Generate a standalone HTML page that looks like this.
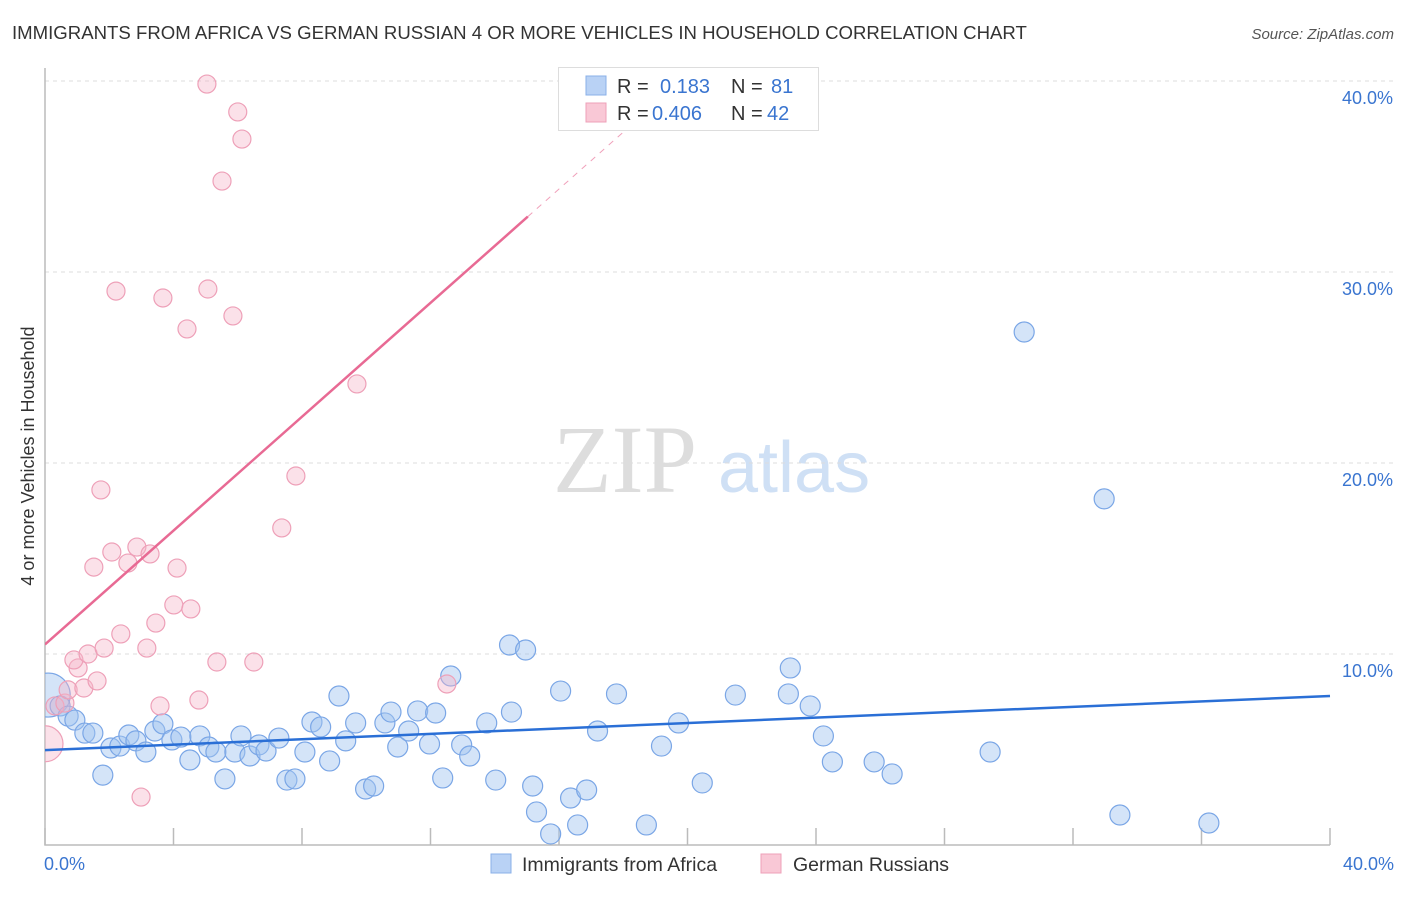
<!DOCTYPE html>
<html><head><meta charset="utf-8"><style>
body{margin:0;background:#fff;font-family:"Liberation Sans",sans-serif}
svg text{font-family:"Liberation Sans",sans-serif}
</style></head><body>
<svg id="c" width="1406" height="892" xmlns="http://www.w3.org/2000/svg">
<defs><clipPath id="plot"><rect x="45" y="60" width="1370" height="785"/></clipPath></defs>
<text x="12" y="39" font-size="18.6" fill="#333">IMMIGRANTS FROM AFRICA VS GERMAN RUSSIAN 4 OR MORE VEHICLES IN HOUSEHOLD CORRELATION CHART</text>
<text x="1394" y="39" font-size="15" fill="#555" text-anchor="end" font-style="italic">Source: ZipAtlas.com</text>
<text x="553" y="492" font-size="96" fill="#ddd" style="font-family:'Liberation Serif',serif">ZIP</text>
<text x="718" y="492" font-size="72" fill="#cfe0f5">atlas</text>
<g id="grid"></g>
<g id="marks" clip-path="url(#plot)"></g>
<text transform="translate(34,456) rotate(-90)" font-size="18" fill="#333" text-anchor="middle">4 or more Vehicles in Household</text>
<text x="44" y="870" font-size="18" fill="#3a75d0">0.0%</text>
<text x="1394" y="870" font-size="18" fill="#3a75d0" text-anchor="end">40.0%</text>
<g>
<rect x="558.5" y="67.5" width="260" height="63" fill="#fff" stroke="#ddd"/>
<rect x="586" y="76" width="20" height="19" fill="#b9d2f5" stroke="#8ab0e8"/>
<rect x="586" y="103" width="20" height="19" fill="#f9c8d6" stroke="#eea0b8"/>
<text x="617" y="93" font-size="20" fill="#333">R =</text><text x="660" y="93" font-size="20" fill="#3a75d0">0.183</text>
<text x="731" y="93" font-size="20" fill="#333">N =</text><text x="771" y="93" font-size="20" fill="#3a75d0">81</text>
<text x="617" y="120" font-size="20" fill="#333">R =</text><text x="652" y="120" font-size="20" fill="#3a75d0">0.406</text>
<text x="731" y="120" font-size="20" fill="#333">N =</text><text x="767" y="120" font-size="20" fill="#3a75d0">42</text>
</g>
<g><rect x="491" y="854" width="20" height="19" fill="#b9d2f5" stroke="#8ab0e8"/><text x="522" y="871" font-size="19.5" fill="#333">Immigrants from Africa</text></g>
<g><rect x="761" y="854" width="20" height="19" fill="#f9c8d6" stroke="#eea0b8"/><text x="793" y="871" font-size="19.5" fill="#333">German Russians</text></g>
</svg>
<script>
const yTicks=[10,20,30,40];
const yTickLabels=["10.0%","20.0%","30.0%","40.0%"];
const xTicks=[0,4,8,12,16,20,24,28,32,36,40];
const blueX=[0.1,0.47,0.72,0.93,1.24,1.49,1.80,2.05,2.33,2.61,2.83,3.14,3.42,3.67,3.95,4.23,4.51,4.82,5.10,5.32,5.60,5.91,6.10,6.38,6.66,6.88,7.28,7.53,7.78,8.09,8.31,8.58,8.86,9.15,9.36,9.67,9.98,10.23,10.58,10.77,10.98,11.32,11.60,11.97,12.16,12.38,12.63,12.97,13.22,13.75,14.03,14.46,14.52,14.96,15.18,15.30,15.74,16.05,16.36,16.58,16.86,17.20,17.79,18.72,19.19,19.72,20.46,21.49,23.14,23.20,23.82,24.23,24.51,25.81,26.37,29.42,30.48,32.97,33.46,36.23];
const blueY=[7.85,7.28,6.75,6.54,5.86,5.86,3.66,5.08,5.18,5.76,5.45,4.87,5.97,6.34,5.50,5.65,4.45,5.71,5.13,4.87,3.46,4.87,5.71,4.66,5.24,4.92,5.60,3.40,3.46,4.87,6.44,6.18,4.40,7.80,5.45,6.39,2.93,3.09,6.39,6.96,5.13,5.97,7.02,5.29,6.91,3.51,8.85,5.24,4.66,6.39,3.40,10.47,6.96,10.21,3.09,1.73,0.58,8.06,2.46,1.05,2.88,5.97,7.91,1.05,5.18,6.39,3.25,7.85,7.91,9.27,7.28,5.71,4.35,4.35,3.72,4.87,26.86,18.12,1.57,1.15];
const pinkX=[0.0,0.31,0.62,0.72,1.03,0.90,1.34,1.21,1.62,1.84,1.74,1.52,2.08,2.21,2.36,2.58,2.86,2.99,3.27,3.17,3.45,3.58,3.67,4.01,4.11,4.42,4.54,4.79,5.07,5.04,5.35,5.51,5.85,6.00,6.13,6.50,7.37,7.81,9.71,12.51];
const pinkY=[5.3,7.28,7.43,8.12,9.27,9.69,10.0,8.22,8.59,10.31,18.59,14.55,15.34,29.0,11.05,14.76,15.60,2.51,15.24,10.31,11.62,7.28,28.64,12.57,14.50,27.02,12.36,7.59,29.11,39.84,9.58,34.76,27.70,38.38,36.96,9.58,16.60,19.32,24.14,8.43];
const blueTrend=[[0,4.97],[40,7.8]];
const pinkTrend=[[0,10.5],[15.03,32.9]];
const pinkTrendDash=[[15.03,32.9],[19.8,40]];
const NS="http://www.w3.org/2000/svg";
const X=v=>45+v/40*1285, Y=v=>845-v*19.1;
function mk(t,a,p){const e=document.createElementNS(NS,t);for(const k in a)e.setAttribute(k,a[k]);p.appendChild(e);return e;}
const g=document.getElementById('grid'),m=document.getElementById('marks');
yTicks.forEach((t,i)=>{
 const l=mk('line',{x1:45,x2:1393,y1:Y(t),y2:Y(t),stroke:'#ddd','stroke-dasharray':'4,4'},g);
 
 
 const tx=mk('text',{x:1393,y:Y(t)+23,'font-size':18,fill:'#3a75d0','text-anchor':'end'},g);
 tx.textContent=yTickLabels[i];
 
 
});
const ax=mk('path',{d:'M45,68V845H1330',fill:'none',stroke:'#bbb','stroke-width':1.5},g);


xTicks.forEach(t=>{
 const l=mk('line',{x1:X(t),x2:X(t),y1:828,y2:845,stroke:'#bbb','stroke-width':1.5},g);
 
 
});
blueX.forEach((x,i)=>{
 const c=mk('circle',{cx:X(x),cy:Y(blueY[i]),r:i==0?22:10,fill:'rgba(160,195,240,0.45)',stroke:'#7aa6e6','stroke-width':1.2},m);
 
 
});
pinkX.forEach((x,i)=>{
 const c=mk('circle',{cx:X(x),cy:Y(pinkY[i]),r:i==0?18:9,fill:'rgba(245,180,200,0.4)',stroke:'#eea0b8','stroke-width':1.2},m);
 
 
});
let l=mk('line',{x1:X(blueTrend[0][0]),y1:Y(blueTrend[0][1]),x2:X(blueTrend[1][0]),y2:Y(blueTrend[1][1]),stroke:'#2a6fd6','stroke-width':2.5},m);


l=mk('line',{x1:X(pinkTrend[0][0]),y1:Y(pinkTrend[0][1]),x2:X(pinkTrend[1][0]),y2:Y(pinkTrend[1][1]),stroke:'#e86a94','stroke-width':2.5},m);


l=mk('line',{x1:X(pinkTrendDash[0][0]),y1:Y(pinkTrendDash[0][1]),x2:X(pinkTrendDash[1][0]),y2:Y(pinkTrendDash[1][1]),stroke:'#f0a0ba','stroke-width':1,'stroke-dasharray':'6,6'},m);


</script>
</body></html>
